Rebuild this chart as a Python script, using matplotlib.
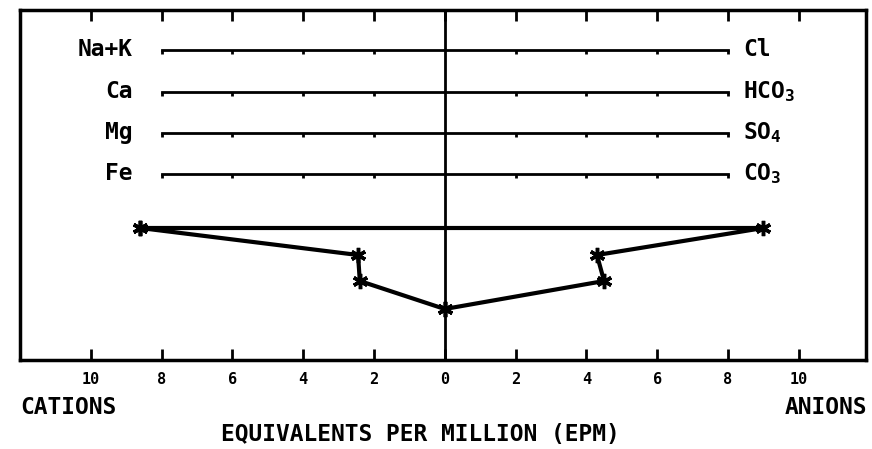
import matplotlib
matplotlib.use("Agg")
import matplotlib.pyplot as plt
import matplotlib.transforms as mtransforms

plt.rcParams['mathtext.fontset'] = 'custom'
plt.rcParams['mathtext.rm'] = 'DejaVu Sans Mono:bold'
plt.rcParams['mathtext.it'] = 'DejaVu Sans Mono:bold'
plt.rcParams['mathtext.bf'] = 'DejaVu Sans Mono:bold'
plt.rcParams['mathtext.default'] = 'rm'

# ---- data ----
cations = ['Na+K', 'Ca', 'Mg', 'Fe']
anions = ['Cl', 'HCO$_3$', 'SO$_4$', 'CO$_3$']
cation_epm = [8.6, 2.45, 2.4, 0.0]
anion_epm = [9.0, 4.3, 4.5, 0.0]
tick_values = [-10, -8, -6, -4, -2, 0, 2, 4, 6, 8, 10]
tick_labels = ['10', '8', '6', '4', '2', '0', '2', '4', '6', '8', '10']
scale_values = [-8, -6, -4, -2, 2, 4, 6, 8]

# ---- layout ----
label_rows = [40, 82, 123, 164]
diagram_rows = [218, 245, 271, 299]
FONT = 'DejaVu Sans Mono'

W, H = 872, 449
fig = plt.figure(figsize=(W / 100, H / 100), dpi=100)
ax = fig.add_axes([20 / W, (H - 360) / H, 846 / W, 350 / H])
ax.set_xlim(-12, 11.9)
ax.set_ylim(350, 0)

for s in ax.spines.values():
    s.set_linewidth(2.5)

ax.set_xticks(tick_values)
ax.set_xticklabels(tick_labels, fontsize=11, fontweight='bold', family=FONT)
ax.tick_params(axis='x', which='both', direction='in', length=8, width=2,
               top=True, bottom=True, labelbottom=True, pad=9)
ax.set_yticks([])

# centre line
ax.axvline(0, color='black', lw=2)

# labelled scale lines
for row, cat, an in zip(label_rows, cations, anions):
    ax.plot([scale_values[0], scale_values[-1]], [row, row], color='black', lw=2)
    ax.vlines(scale_values, row, row + 4, color='black', lw=2)
    t1 = mtransforms.offset_copy(ax.transData, fig=fig, x=-29, y=0, units='dots')
    ax.text(scale_values[0], row, cat, transform=t1, ha='right', va='center',
            fontsize=16.5, fontweight='bold', family=FONT)
    t2 = mtransforms.offset_copy(ax.transData, fig=fig, x=15, y=0, units='dots')
    ax.text(scale_values[-1], row, an, transform=t2, ha='left', va='center',
            fontsize=16.5, fontweight='bold', family=FONT)

# Stiff polygon
xs = [-v for v in cation_epm] + anion_epm[::-1] + [-cation_epm[0]]
ys = diagram_rows + diagram_rows[::-1] + [diagram_rows[0]]
ax.plot(xs, ys, color='black', lw=3, marker=(6, 2, 0), markersize=11,
        markeredgewidth=2.5, solid_joinstyle='miter')

# axis texts
fig.text(20 / W, 1 - 407 / H, 'CATIONS', ha='left', va='center',
         fontsize=16.5, fontweight='bold', family=FONT)
fig.text(867 / W, 1 - 407 / H, 'ANIONS', ha='right', va='center',
         fontsize=16.5, fontweight='bold', family=FONT)
fig.text(420 / W, 1 - 435 / H, 'EQUIVALENTS PER MILLION (EPM)', ha='center',
         va='center', fontsize=16.5, fontweight='bold', family=FONT)

fig.savefig('out.png', dpi=100)
